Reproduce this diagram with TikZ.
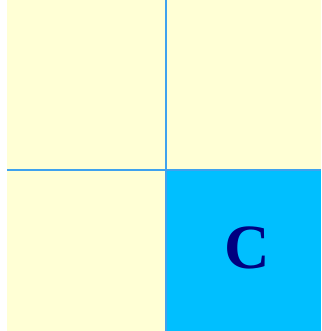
\documentclass[tikz,border=0pt]{standalone}
\usepackage{fontspec}
\setmainfont{Liberation Serif}
\definecolor{paleyellow}{HTML}{FFFFD5}
\definecolor{skycyan}{HTML}{00BFFF}
\definecolor{gridblue}{HTML}{3FA2EE}
\definecolor{letternavy}{HTML}{000080}
\begin{document}
\begin{tikzpicture}[x=1pt,y=-1pt,
  gridline/.style={draw=gridblue,line width=1.2pt},
  letter/.style={text=letternavy,font=\fontsize{63}{63}\selectfont\bfseries,inner sep=0pt}]
\useasboundingbox (0,0) rectangle (321,331);
\fill[white] (0,0) rectangle (321,331);
\fill[paleyellow] (7,0) rectangle (321,331);
\fill[skycyan] (166,170) rectangle (321,331);
\coordinate (vt) at (166,0);
\coordinate (vb) at (166,331);
\coordinate (hl) at (7,170);
\coordinate (hr) at (321,170);
\draw[gridline] (vt) -- (vb);
\draw[gridline] (hl) -- (hr);
\node[letter] (c) at (247,247.5) {C};
\end{tikzpicture}
\end{document}
